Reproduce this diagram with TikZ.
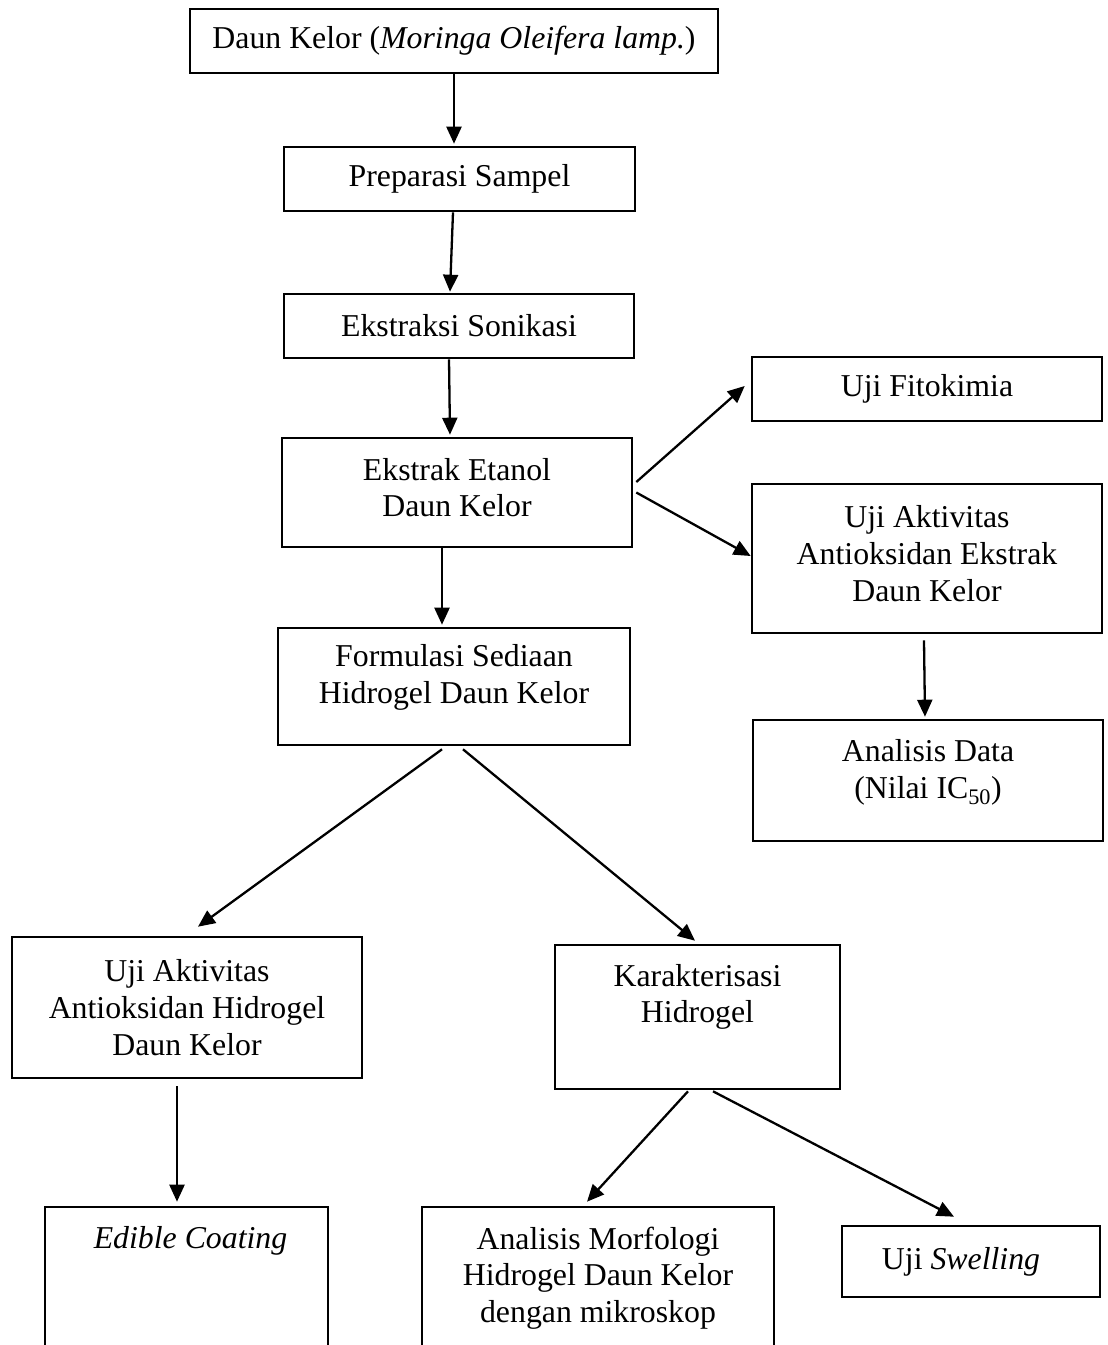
\documentclass[tikz,border=0pt]{standalone}
\usepackage{fontspec}
\setmainfont{Liberation Serif}
\usetikzlibrary{arrows.meta,calc}
\begin{document}
\begin{tikzpicture}[x=1pt,y=-1pt,
  box/.style={draw, line width=2.6pt, inner sep=0pt, rectangle},
  txt/.style={align=center, inner sep=0pt, font=\fontsize{31.8}{36.7}\selectfont},
  arr/.style={line width=2.3pt, -{Triangle[length=17pt,width=15pt]}}]
\useasboundingbox (0,0) rectangle (1108,1345);
\clip (0,0) rectangle (1108,1345);

% boxes
\node[box, minimum width=528pt, minimum height=64pt]  (b1)  at (454,41) {};
\node[box, minimum width=351pt, minimum height=64pt]  (b2)  at (459.5,179) {};
\node[box, minimum width=350pt, minimum height=64pt]  (b3)  at (459,326) {};
\node[box, minimum width=350pt, minimum height=109pt] (b4)  at (457,492.5) {};
\node[box, minimum width=352pt, minimum height=117pt] (b5)  at (454,686.5) {};
\node[box, minimum width=350pt, minimum height=64pt]  (b6)  at (927,389) {};
\node[box, minimum width=350pt, minimum height=149pt] (b7)  at (927,558.5) {};
\node[box, minimum width=350pt, minimum height=121pt] (b8)  at (928,780.5) {};
\node[box, minimum width=350pt, minimum height=141pt] (b9)  at (187,1007.5) {};
\node[box, minimum width=285pt, minimum height=144pt] (b10) at (697.5,1017) {};
\node[box, minimum width=283pt, minimum height=193pt] (b11) at (186.5,1303.5) {};
\node[box, minimum width=352pt, minimum height=193pt] (b12) at (598,1303.5) {};
\node[box, minimum width=258pt, minimum height=71pt]  (b13) at (971,1261.5) {};

% texts
\node[txt] (t1)  at (b1.center) {Daun Kelor (\textit{Moringa Oleifera lamp.})};
\node[txt] (t2)  at (b2.center) {Preparasi Sampel};
\node[txt] (t3)  at (b3.center) {Ekstraksi Sonikasi};
\node[txt] (t4)  at ([yshift=5pt]b4.center) {Ekstrak Etanol\\Daun Kelor};
\node[txt] (t5)  at ([yshift=9pt]b5.center) {Formulasi Sediaan\\Hidrogel Daun Kelor};
\node[txt] (t6)  at (b6.center) {Uji Fitokimia};
\node[txt] (t7)  at ([yshift=5pt]b7.center) {Uji Aktivitas\\Antioksidan Ekstrak\\Daun Kelor};
\node[txt] (t8)  at ([yshift=8pt]b8.center) {Analisis Data\\(Nilai IC\textsubscript{50})};
\node[txt] (t9)  at (b9.center) {Uji Aktivitas\\Antioksidan Hidrogel\\Daun Kelor};
\node[txt] (t10) at ([yshift=20pt]b10.center) {Karakterisasi\\Hidrogel};
\node[txt] (t11) at ([xshift=4pt]b11.north |- 0,1241) {\textit{Edible Coating}};
\node[txt] (t12) at (b12.north |- 0,1278) {Analisis Morfologi\\Hidrogel Daun Kelor\\dengan mikroskop};
\node[txt] (t13) at ([xshift=-10pt]b13.center) {Uji \textit{Swelling}};

% connectors
\draw[arr] (b1.south) -- ([yshift=2pt]b1.south |- b2.north);
\draw[arr] ([xshift=-6.5pt]b2.south) -- ([xshift=-9pt,yshift=1pt]b3.north);
\draw[arr] ([xshift=-10pt]b3.south) -- ([xshift=-7pt,yshift=2pt]b4.north);
\draw[arr] ([xshift=-15pt]b4.south) -- ([xshift=-12pt,yshift=2pt]b5.north);
\draw[arr] ([xshift=3pt,yshift=10.5pt]b4.east) -- ([xshift=-6pt,yshift=3pt]b6.west);
\draw[arr] ([xshift=3pt]b4.east) -- ([yshift=2.5pt]b7.west);
\draw[arr] ([xshift=-3pt,yshift=-6pt]b7.south) -- ([xshift=-3pt,yshift=2pt]b8.north);
\draw[arr] ([xshift=-12pt,yshift=-3pt]b5.south) -- ([xshift=11pt,yshift=9pt]b9.north);
\draw[arr] ([xshift=9pt,yshift=-3pt]b5.south) -- ([xshift=-2.5pt,yshift=3pt]b10.north);
\draw[arr] ([xshift=-10pt,yshift=-7pt]b9.south) -- ([xshift=-9.5pt,yshift=4pt]b11.north);
\draw[arr] ([xshift=-9.5pt,yshift=-1pt]b10.south) -- ([xshift=-11pt,yshift=4pt]b12.north);
\draw[arr] ([xshift=15.5pt,yshift=-1pt]b10.south) -- ([xshift=-17pt,yshift=8pt]b13.north);
\end{tikzpicture}
\end{document}
